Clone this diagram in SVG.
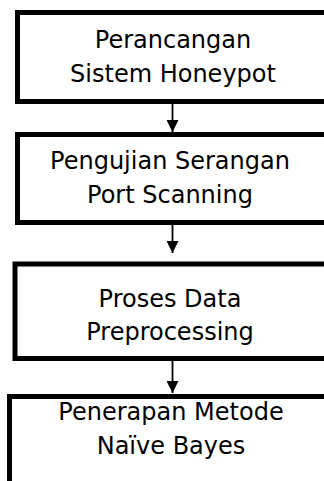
<svg xmlns="http://www.w3.org/2000/svg" width="324" height="481" viewBox="0 0 324 481">
<defs>
<style>
.box{fill:#fff;stroke:#000;stroke-width:5}
.t{font-family:"DejaVu Sans",Verdana,sans-serif;font-size:24px;fill:#000;text-anchor:middle}
.c{stroke:#000;stroke-width:1.8;fill:none}
</style>
<marker id="ah" markerUnits="userSpaceOnUse" markerWidth="13" markerHeight="12" refX="12" refY="6" orient="auto">
<path d="M0,0 L12,6 L0,12 Z" fill="#000"/>
</marker>
</defs>
<rect width="324" height="481" fill="#fff"/>
<g id="node1">
<rect class="box" x="17.5" y="12.5" width="330" height="89"/>
<text class="t" x="173" y="48">Perancangan</text>
<text class="t" x="173" y="82">Sistem Honeypot</text>
</g>
<g id="node2">
<rect class="box" x="17.5" y="134.5" width="330" height="88"/>
<text class="t" x="170" y="169">Pengujian Serangan</text>
<text class="t" x="170" y="203">Port Scanning</text>
</g>
<g id="node3">
<rect class="box" x="15" y="264" width="330" height="94.5"/>
<text class="t" x="170" y="307">Proses Data</text>
<text class="t" x="170" y="340">Preprocessing</text>
</g>
<g id="node4">
<rect class="box" x="9.5" y="396.5" width="340" height="100"/>
<text class="t" x="171" y="420">Penerapan Metode</text>
<text class="t" x="171" y="454">Naïve Bayes</text>
</g>
<g id="connectors">
<line class="c" x1="172.5" y1="104" x2="172.5" y2="132" marker-end="url(#ah)"/>
<line class="c" x1="172.5" y1="225" x2="172.5" y2="253" marker-end="url(#ah)"/>
<line class="c" x1="172.5" y1="361" x2="172.5" y2="393" marker-end="url(#ah)"/>
</g>
</svg>
